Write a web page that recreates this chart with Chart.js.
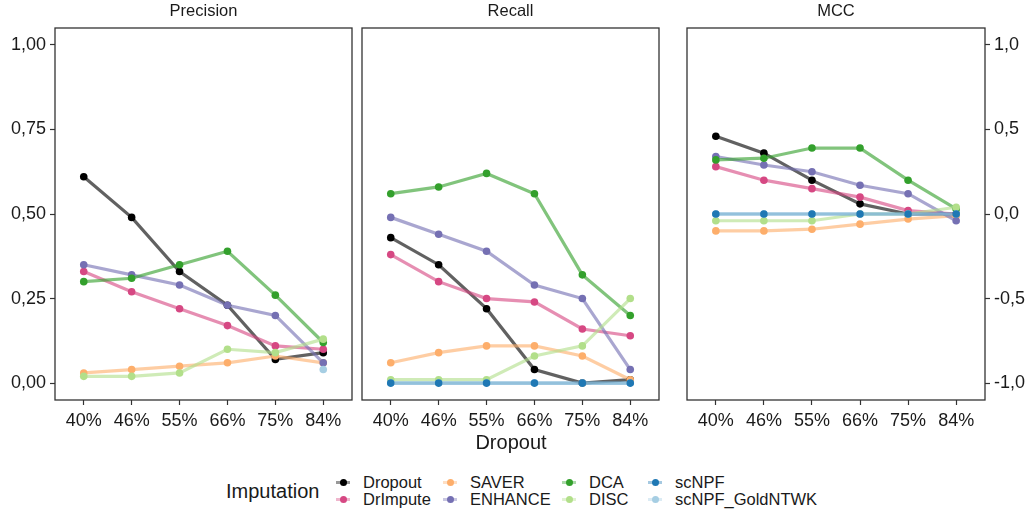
<!DOCTYPE html>
<html>
<head>
<meta charset="utf-8">
<script src="https://cdn.jsdelivr.net/npm/chart.js@4.4.1/dist/chart.umd.min.js"></script>
<style>
  html, body { margin: 0; padding: 0; background: #ffffff; }
  body { width: 1030px; height: 516px; position: relative; overflow: hidden;
         font-family: "Liberation Sans", Arial, sans-serif; color: #1a1a1a; }
  canvas { position: absolute; top: 0; }
  #xtitle { position: absolute; left: 0; width: 1022px; top: 430px; text-align: center;
            font-size: 20px; line-height: 24px; }
  #legendTitle { position: absolute; left: 226px; top: 479px; font-size: 20px; line-height: 24px; }
  .lg-item { position: absolute; height: 17px; font-size: 16.5px; line-height: 17px; white-space: nowrap; }
  .lg-key { position: absolute; left: 0; top: 0; width: 16px; height: 17px; }
  .lg-key .ln { position: absolute; left: 1px; top: 7px; width: 14px; height: 3px; }
  .lg-key .dot { position: absolute; left: 4.5px; top: 5px; width: 7px; height: 7px; border-radius: 50%; }
  .lg-text { position: absolute; left: 28px; top: 0; }
</style>
</head>
<body>
<canvas id="cPrecision" width="360" height="440" style="left:0px"></canvas>
<canvas id="cRecall" width="310" height="440" style="left:355px"></canvas>
<canvas id="cMCC" width="350" height="440" style="left:680px"></canvas>
<div id="xtitle">Dropout</div>
<div id="legendTitle">Imputation</div>
<div id="legend"></div>

<script>
// Dropout levels on the x axis
const dropoutLevels = ['40%', '46%', '55%', '66%', '75%', '84%'];

// Imputation methods and their colours
const methods = ['Dropout', 'DrImpute', 'SAVER', 'ENHANCE', 'DCA', 'DISC', 'scNPF', 'scNPF_GoldNTWK'];
const methodColors = ['#000000', '#d64883', '#fdae6b', '#7570b3', '#33a02c', '#b2df8a', '#1f78b4', '#a6cee3'];

// Precision per method
const precDropout  = [0.61, 0.49, 0.33, 0.23, 0.07, 0.09];
const precDrImpute = [0.33, 0.27, 0.22, 0.17, 0.11, 0.10];
const precSAVER    = [0.03, 0.04, 0.05, 0.06, 0.08, 0.06];
const precENHANCE  = [0.35, 0.32, 0.29, 0.23, 0.20, 0.06];
const precDCA      = [0.30, 0.31, 0.35, 0.39, 0.26, 0.12];
const precDISC     = [0.02, 0.02, 0.03, 0.10, 0.09, 0.13];
const precScNPF    = [null, null, null, null, null, null];
const precGold     = [null, null, null, null, null, 0.04];

// Recall per method
const recDropout  = [0.43, 0.35, 0.22, 0.04, 0.00, 0.01];
const recDrImpute = [0.38, 0.30, 0.25, 0.24, 0.16, 0.14];
const recSAVER    = [0.06, 0.09, 0.11, 0.11, 0.08, 0.01];
const recENHANCE  = [0.49, 0.44, 0.39, 0.29, 0.25, 0.04];
const recDCA      = [0.56, 0.58, 0.62, 0.56, 0.32, 0.20];
const recDISC     = [0.01, 0.01, 0.01, 0.08, 0.11, 0.25];
const recScNPF    = [0, 0, 0, 0, 0, 0];
const recGold     = [0, 0, 0, 0, 0, 0];

// Matthews correlation coefficient per method
const mccDropout  = [0.46, 0.36, 0.20, 0.06, 0.00, 0.00];
const mccDrImpute = [0.28, 0.20, 0.15, 0.10, 0.02, 0.00];
const mccSAVER    = [-0.10, -0.10, -0.09, -0.06, -0.03, -0.01];
const mccENHANCE  = [0.34, 0.29, 0.25, 0.17, 0.12, -0.04];
const mccDCA      = [0.32, 0.33, 0.39, 0.39, 0.20, 0.03];
const mccDISC     = [-0.04, -0.04, -0.04, 0.00, 0.00, 0.04];
const mccScNPF    = [0, 0, 0, 0, 0, 0];
const mccGold     = [0, 0, 0, 0, 0, 0];

// Tick values and labels
const leftTicks = [0, 0.25, 0.5, 0.75, 1.0];
const leftTickLabels = ['0,00', '0,25', '0,50', '0,75', '1,00'];
const mccTicks = [-1.0, -0.5, 0, 0.5, 1.0];
const mccTickLabels = ['-1,0', '-0,5', '0,0', '0,5', '1,0'];

Chart.defaults.font.family = '"Liberation Sans", Arial, sans-serif';
Chart.defaults.color = '#1a1a1a';

function hexA(hex, a) {
  const n = parseInt(hex.slice(1), 16);
  return `rgba(${(n >> 16) & 255},${(n >> 8) & 255},${n & 255},${a})`;
}

// Panel frame and strip title
const panelDecor = {
  id: 'panelDecor',
  afterDraw(chart, args, opts) {
    const { ctx, chartArea: a } = chart;
    ctx.save();
    ctx.strokeStyle = '#333333';
    ctx.lineWidth = 1.3;
    ctx.strokeRect(a.left, a.top, a.right - a.left, a.bottom - a.top);
    ctx.fillStyle = '#1a1a1a';
    ctx.font = '16.5px "Liberation Sans", Arial, sans-serif';
    ctx.textAlign = 'center';
    ctx.textBaseline = 'middle';
    ctx.fillText(opts.title, (a.left + a.right) / 2, 11);
    ctx.restore();
  }
};

// Lines are drawn first (all series), then the points on top
const pointOrder = [100, 99, 98, 97, 96, 95, 93, 94];

function buildDatasets(series) {
  const sets = [];
  series.forEach((vals, i) => {
    const pts = vals.map((v, k) => ({ x: k, y: v }));
    sets.push({
      label: methods[i] + ' line',
      data: pts,
      borderColor: hexA(methodColors[i], 0.62),
      borderWidth: 3.2,
      pointRadius: 0,
      showLine: true,
      spanGaps: false,
      order: 200 - i
    });
    sets.push({
      label: methods[i],
      data: pts,
      borderColor: methodColors[i],
      backgroundColor: methodColors[i],
      pointRadius: 3.8,
      pointBorderWidth: 0,
      showLine: false,
      order: pointOrder[i]
    });
  });
  return sets;
}

function makePanel(id, title, series, yCfg, padding) {
  const yScale = {
    type: 'linear',
    min: yCfg.min,
    max: yCfg.max,
    position: yCfg.position,
    display: yCfg.show,
    afterBuildTicks: s => { s.ticks = yCfg.ticks.map(v => ({ value: v })); },
    afterFit: s => { s.width = yCfg.width; },
    grid: { drawOnChartArea: false, drawTicks: true, tickLength: 5, tickColor: '#333333', tickWidth: 1.2 },
    border: { display: false },
    ticks: {
      font: { size: 18 },
      color: '#1a1a1a',
      padding: 4,
      callback: v => yCfg.labels[yCfg.ticks.indexOf(v)]
    }
  };
  new Chart(document.getElementById(id), {
    type: 'line',
    data: { datasets: buildDatasets(series) },
    options: {
      responsive: false,
      animation: false,
      devicePixelRatio: 1,
      layout: { padding: padding },
      plugins: { legend: { display: false }, tooltip: { enabled: false }, panelDecor: { title: title } },
      scales: {
        x: {
          type: 'linear',
          min: -0.6,
          max: 5.6,
          afterBuildTicks: s => { s.ticks = dropoutLevels.map((_, k) => ({ value: k })); },
          afterFit: s => { s.height = 40; },
          grid: { drawOnChartArea: false, drawTicks: true, tickLength: 5, tickColor: '#333333', tickWidth: 1.2 },
          border: { display: false },
          ticks: {
            font: { size: 18 },
            color: '#1a1a1a',
            padding: 5,
            maxRotation: 0,
            autoSkip: false,
            callback: v => dropoutLevels[v]
          }
        },
        y: yScale
      }
    },
    plugins: [panelDecor]
  });
}

makePanel('cPrecision', 'Precision',
  [precDropout, precDrImpute, precSAVER, precENHANCE, precDCA, precDISC, precScNPF, precGold],
  { min: -0.05, max: 1.05, position: 'left', show: true, width: 55, ticks: leftTicks, labels: leftTickLabels },
  { top: 28, right: 8, left: 0, bottom: 0 });

makePanel('cRecall', 'Recall',
  [recDropout, recDrImpute, recSAVER, recENHANCE, recDCA, recDISC, recScNPF, recGold],
  { min: -0.05, max: 1.05, position: 'left', show: false, width: 0, ticks: leftTicks, labels: leftTickLabels },
  { top: 28, right: 6, left: 7, bottom: 0 });

makePanel('cMCC', 'MCC',
  [mccDropout, mccDrImpute, mccSAVER, mccENHANCE, mccDCA, mccDISC, mccScNPF, mccGold],
  { min: -1.1, max: 1.1, position: 'right', show: true, width: 45, ticks: mccTicks, labels: mccTickLabels },
  { top: 28, right: 0, left: 7, bottom: 0 });

// Legend: two rows, four columns
const legendCols = [335, 442, 561, 647];
const legendRows = [474, 491];
const legendEl = document.getElementById('legend');
methods.forEach((m, i) => {
  const col = Math.floor(i / 2), row = i % 2;
  const item = document.createElement('div');
  item.className = 'lg-item';
  item.style.left = legendCols[col] + 'px';
  item.style.top = legendRows[row] + 'px';
  item.innerHTML =
    `<div class="lg-key"><div class="ln" style="background:${hexA(methodColors[i], 0.4)}"></div>` +
    `<div class="dot" style="background:${methodColors[i]}"></div></div>` +
    `<div class="lg-text">${m}</div>`;
  legendEl.appendChild(item);
});
</script>
</body>
</html>
